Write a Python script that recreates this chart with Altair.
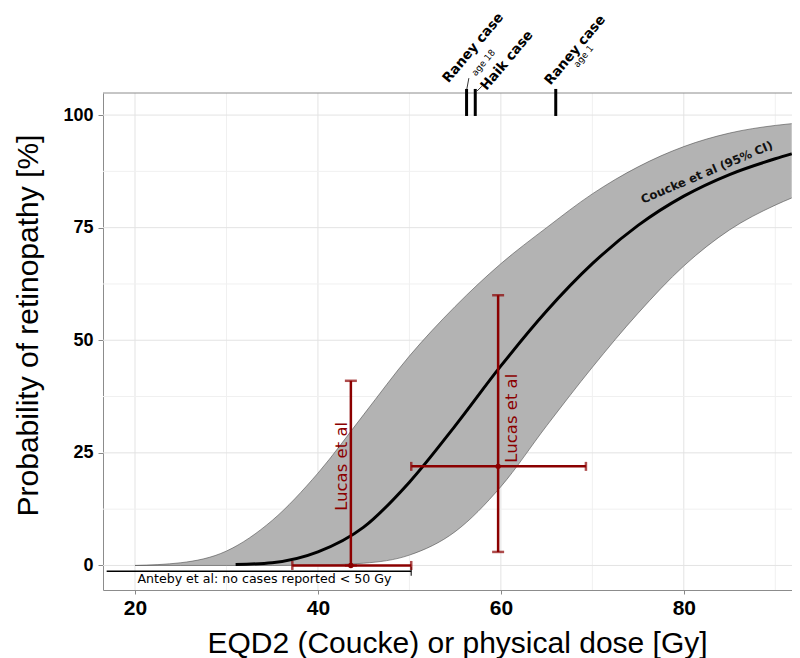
import altair as alt
import pandas as pd

# ---- data ----
# Coucke et al. dose-response curve
curve_dose = [31, 35, 40, 45, 50, 55, 60, 65, 70, 75, 80, 85, 90, 91.8]
curve_prob = [0.2, 0.6, 3.0, 8.5, 18.5, 31, 44.3, 56.5, 67.0, 75.5, 82.0, 86.8, 90.3, 91.4]

# 95% confidence band
band_dose = [20, 25, 30, 35, 40, 45, 50, 55, 60, 65, 70, 75, 80, 85, 90, 91.8]
band_upper = [0.0, 0.6, 3.2, 10.0, 20.5, 33.5, 46.5, 57.5, 67, 75, 82.5, 88.5, 93, 96, 97.7, 98.1]
band_lower = [0, 0, 0, 0, 0.1, 0.5, 2.3, 7.5, 17.5, 31, 44, 56, 66.5, 74.5, 80, 81.6]

# Lucas et al. points with error bars
lucas_dose = [43.6, 59.7]
lucas_dose_lo = [37.2, 50.2]
lucas_dose_hi = [50.2, 69.3]
lucas_prob = [0, 22]
lucas_prob_lo = [0, 3]
lucas_prob_hi = [41, 60]
lucas_label = ["Lucas et al", "Lucas et al"]

# Anteby et al: no cases below 50 Gy
anteby_from = [16.9]
anteby_to = [50.2]
anteby_level = [-1.3]
anteby_text = ["Anteby et al: no cases reported < 50 Gy"]

# individual case reports (marks above the panel)
case_dose = [56.25, 57.2, 66.0]
case_names = ["Raney case", "Haik case", "Raney case"]
case_ages = ["age 18", "age 1"]

# axis ticks and grid
x_ticks = [20, 40, 60, 80]
y_ticks = [0, 25, 50, 75, 100]
x_grid_major = [20, 40, 60, 80]
x_grid_minor = [30, 50, 70, 90]
y_grid_major = [0, 25, 50, 75, 100]
y_grid_minor = [12.5, 37.5, 62.5, 87.5]

# ---- tables ----
curve_df = pd.DataFrame({"dose": curve_dose, "prob": curve_prob})
band_df = pd.DataFrame({"dose": band_dose, "upper": band_upper, "lower": band_lower})
lucas_df = pd.DataFrame({
    "dose": lucas_dose, "dlo": lucas_dose_lo, "dhi": lucas_dose_hi,
    "prob": lucas_prob, "plo": lucas_prob_lo, "phi": lucas_prob_hi,
})
lucas_lab_df = pd.DataFrame({"x": [42.62, 61.2], "y": [22, 32.7], "t": lucas_label})
anteby_df = pd.DataFrame({"x": anteby_from, "x2": anteby_to, "y": anteby_level})
anteby_txt_df = pd.DataFrame({"x": [34.15], "y": [-3.1], "t": anteby_text})
case_df = pd.DataFrame({"x": case_dose, "y": [99.8] * 3, "y2": [105.8] * 3})
case_lab_df = pd.DataFrame({"x": [53.95, 58.1, 65.1], "y": [107.6, 105.9, 107.1], "t": case_names})
age_df = pd.DataFrame({"x": [57.0, 68.15], "y": [109.0, 110.9], "t": case_ages})
conn_df = pd.DataFrame({"x": [56.5, 57.38], "x2": [56.28, 57.92], "y": [108.2, 105.3], "y2": [105.8, 106.4]})
coucke_df = pd.DataFrame({"x": [82.51], "y": [87.3], "t": ["Coucke et al (95% CI)"]})

xs = alt.Scale(domain=[16.5, 91.83], nice=False, zero=False)
ys = alt.Scale(domain=[-5.45, 104.9], nice=False, zero=False)

RED = "#8B0000"
FONT = "Liberation Sans"
AFONT = "DejaVu Sans"
BORDER = "#8c8c8c"

x_axis = alt.Axis(
    values=x_ticks, grid=False, domain=True, domainColor=BORDER, domainWidth=1,
    tickColor="#888", tickSize=4,
    labelFont=FONT, labelFontSize=21, labelFontWeight="bold", labelColor="black",
    labelPadding=3,
    title="EQD2 (Coucke) or physical dose [Gy]", titleFont=FONT, titleFontSize=30,
    titleFontWeight="normal", titleColor="black", titleX=354, titleY=62,
    titleAlign="center", titleBaseline="alphabetic",
)
y_axis = alt.Axis(
    values=y_ticks, grid=False, domain=True, domainColor=BORDER, domainWidth=1,
    tickColor="#888", tickSize=5,
    labelFont=FONT, labelFontSize=18, labelFontWeight="bold", labelColor="black",
    labelPadding=5,
    title="Probability of retinopathy [%]", titleFont=FONT, titleFontSize=30,
    titleFontWeight="normal", titleColor="black", titleX=-66, titleY=232,
    titleAlign="center", titleBaseline="alphabetic",
)


def X(f):
    return alt.X(f, type="quantitative", scale=xs, axis=x_axis)


def Y(f):
    return alt.Y(f, type="quantitative", scale=ys, axis=y_axis)


gx_minor = alt.Chart(pd.DataFrame({"v": x_grid_minor})).mark_rule(color="#f0f0f0", strokeWidth=1).encode(x=X("v"))
gx_major = alt.Chart(pd.DataFrame({"v": x_grid_major})).mark_rule(color="#e3e3e3", strokeWidth=1).encode(x=X("v"))
gy_minor = alt.Chart(pd.DataFrame({"v": y_grid_minor})).mark_rule(color="#f0f0f0", strokeWidth=1).encode(y=Y("v"))
gy_major = alt.Chart(pd.DataFrame({"v": y_grid_major})).mark_rule(color="#e3e3e3", strokeWidth=1).encode(y=Y("v"))
top_border = alt.Chart(pd.DataFrame({"v": [0]})).mark_rule(color=BORDER, strokeWidth=1).encode(
    y=alt.value(0), x=alt.value(0), x2=alt.value(800))

band = alt.Chart(band_df).mark_area(color="#b3b3b3", opacity=1, interpolate="monotone").encode(
    x=X("dose"), y=Y("upper"), y2="lower")
band_up = alt.Chart(band_df).mark_line(color="#4d4d4d", strokeWidth=0.6, interpolate="monotone").encode(
    x=X("dose"), y=Y("upper"))
band_lo = alt.Chart(band_df).mark_line(color="#4d4d4d", strokeWidth=0.6, interpolate="monotone").encode(
    x=X("dose"), y=Y("lower"))

curve = alt.Chart(curve_df).mark_line(color="black", strokeWidth=3, interpolate="monotone").encode(
    x=X("dose"), y=Y("prob"))

coucke = alt.Chart(coucke_df).mark_text(
    font=AFONT, fontSize=11.8, fontWeight="bold", angle=337, color="#111",
    align="center", baseline="middle").encode(x=X("x"), y=Y("y"), text="t")

anteby = alt.Chart(anteby_df).mark_rule(color="black", strokeWidth=1.5).encode(
    x=X("x"), x2="x2", y=Y("y"))
anteby_cap = alt.Chart(anteby_df).mark_tick(color="black", orient="vertical", size=9, thickness=1.5).encode(
    x=X("x2"), y=Y("y"))
anteby_txt = alt.Chart(anteby_txt_df).mark_text(
    font=AFONT, fontSize=12.6, color="black", align="center", baseline="middle").encode(
    x=X("x"), y=Y("y"), text="t")

lh = alt.Chart(lucas_df).mark_rule(color=RED, strokeWidth=2.5).encode(x=X("dlo"), x2="dhi", y=Y("prob"))
lv = alt.Chart(lucas_df).mark_rule(color=RED, strokeWidth=2.5).encode(x=X("dose"), y=Y("plo"), y2="phi")
cap_xlo = alt.Chart(lucas_df).mark_tick(color=RED, orient="vertical", size=9, thickness=2.5).encode(x=X("dlo"), y=Y("prob"))
cap_xhi = alt.Chart(lucas_df).mark_tick(color=RED, orient="vertical", size=9, thickness=2.5).encode(x=X("dhi"), y=Y("prob"))
cap_ylo = alt.Chart(lucas_df).mark_tick(color=RED, orient="horizontal", size=12, thickness=2.5).encode(x=X("dose"), y=Y("plo"))
cap_yhi = alt.Chart(lucas_df).mark_tick(color=RED, orient="horizontal", size=12, thickness=2.5).encode(x=X("dose"), y=Y("phi"))
lpt = alt.Chart(lucas_df).mark_point(color=RED, filled=True, size=30, opacity=1).encode(x=X("dose"), y=Y("prob"))
llab = alt.Chart(lucas_lab_df).mark_text(
    font=AFONT, fontSize=16.5, color=RED, angle=270, align="center", baseline="middle").encode(
    x=X("x"), y=Y("y"), text="t")

cases = alt.Chart(case_df).mark_rule(color="black", strokeWidth=3).encode(x=X("x"), y=Y("y"), y2="y2")
conn = alt.Chart(conn_df).mark_rule(color="black", strokeWidth=0.8).encode(x=X("x"), x2="x2", y=Y("y"), y2="y2")
case_lab = alt.Chart(case_lab_df).mark_text(
    font=AFONT, fontSize=13.5, fontWeight="bold", angle=310, color="black",
    align="left", baseline="middle").encode(x=X("x"), y=Y("y"), text="t")
age_lab = alt.Chart(age_df).mark_text(
    font=AFONT, fontSize=9, angle=310, color="black",
    align="left", baseline="middle").encode(x=X("x"), y=Y("y"), text="t")

chart = alt.layer(
    gx_minor, gx_major, gy_minor, gy_major,
    band, band_up, band_lo, curve, coucke,
    anteby, anteby_cap, anteby_txt,
    lh, lv, cap_xlo, cap_xhi, cap_ylo, cap_yhi, lpt, llab,
    top_border, cases, conn, case_lab, age_lab,
).properties(
    width=689, height=497,
    autosize=alt.AutoSizeParams(type="none"),
    padding={"left": 95, "top": 85, "right": 0, "bottom": 68},
    background="white",
).configure_view(stroke=None)

chart.save("out.html", embed_options={"renderer": "svg", "actions": False})
